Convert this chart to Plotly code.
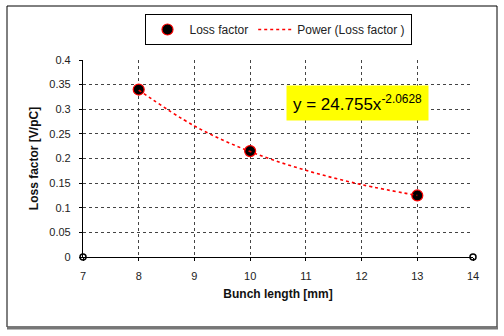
import plotly.graph_objects as go

# data
bunch_length = [8, 10, 13]
loss_factor = [0.34, 0.215, 0.125]

# power trendline, read at integer bunch lengths
trend_x = [8, 9, 10, 11, 12, 13]
trend_y = [0.339, 0.266, 0.214, 0.176, 0.147, 0.125]

# small hollow markers at the axis ends
end_x = [7, 14]
end_y = [0, 0]

x_ticks = [7, 8, 9, 10, 11, 12, 13, 14]
y_ticks = [0, 0.05, 0.1, 0.15, 0.2, 0.25, 0.3, 0.35, 0.4]
y_labels = ['0', '0.05', '0.1', '0.15', '0.2', '0.25', '0.3', '0.35', '0.4']

W, H = 504, 336
L, R, T, B = 83, 31, 60, 79
pw, ph = W - L - R, H - T - B


def px_x(p):
    return (p - L) / pw


def px_y(p):
    return (H - B - p) / ph


fig = go.Figure()
fig.add_trace(go.Scatter(x=bunch_length, y=loss_factor, mode='markers', name='Loss factor',
                         marker=dict(color='black', size=11, line=dict(color='red', width=1.2)),
                         cliponaxis=False))
fig.add_trace(go.Scatter(x=trend_x, y=trend_y, mode='lines', name='Power (Loss factor )',
                         line=dict(color='red', width=1.6, dash='dot', shape='spline')))
fig.add_trace(go.Scatter(x=end_x, y=end_y, mode='markers', showlegend=False,
                         marker=dict(color='white', size=6, line=dict(color='black', width=1.5)),
                         cliponaxis=False))

fig.update_layout(
    width=W, height=H,
    margin=dict(l=L, r=R, t=T, b=B),
    paper_bgcolor='white', plot_bgcolor='white',
    font=dict(family='Liberation Sans, Arial, sans-serif', size=11, color='#222'),
    legend=dict(orientation='h', x=px_x(278), xanchor='center', y=px_y(14), yanchor='top',
                bordercolor='black', borderwidth=1, bgcolor='white',
                font=dict(size=12, color='#222'), itemwidth=34),
    xaxis=dict(range=[7, 14], tickvals=x_ticks, showgrid=True, gridcolor='#444', griddash='dot',
               gridwidth=1, showline=True, linecolor='black', linewidth=1.2,
               ticks='outside', ticklen=3, tickcolor='black', zeroline=False,
               ticklabelstandoff=6,
               title=dict(text='<b>Bunch length [mm]</b>', font=dict(size=12, color='#111'), standoff=8)),
    yaxis=dict(range=[0, 0.4], tickvals=y_ticks, ticktext=y_labels, showgrid=True, gridcolor='#444',
               griddash='dot', gridwidth=1, showline=True, linecolor='black', linewidth=1.2,
               ticks='outside', ticklen=3, tickcolor='black', zeroline=False,
               ticklabelstandoff=6,
               title=dict(text='<b>Loss factor [V/pC]</b>', font=dict(size=12, color='#111'), standoff=8)),
)

# outer chart frame with heavier bottom edge
fig.add_shape(type='rect', xref='paper', yref='paper',
              x0=px_x(7), x1=px_x(497), y0=px_y(327), y1=px_y(6),
              line=dict(color='black', width=1), layer='below')
fig.add_shape(type='line', xref='paper', yref='paper',
              x0=px_x(7), x1=px_x(498), y0=px_y(328), y1=px_y(328),
              line=dict(color='#777', width=3))

fig.add_annotation(x=px_x(357), y=px_y(103), xref='paper', yref='paper',
                   xanchor='center', yanchor='middle',
                   text='y = 24.755x<sup>-2.0628</sup>', showarrow=False,
                   bgcolor='yellow', borderpad=6,
                   font=dict(family='Liberation Sans, Arial, sans-serif', size=17, color='black'))

# drop the default page margin so the figure sits at the window's corner
fig.write_html('out.html', config={'displayModeBar': False},
               post_script="document.body.style.margin='0';")
